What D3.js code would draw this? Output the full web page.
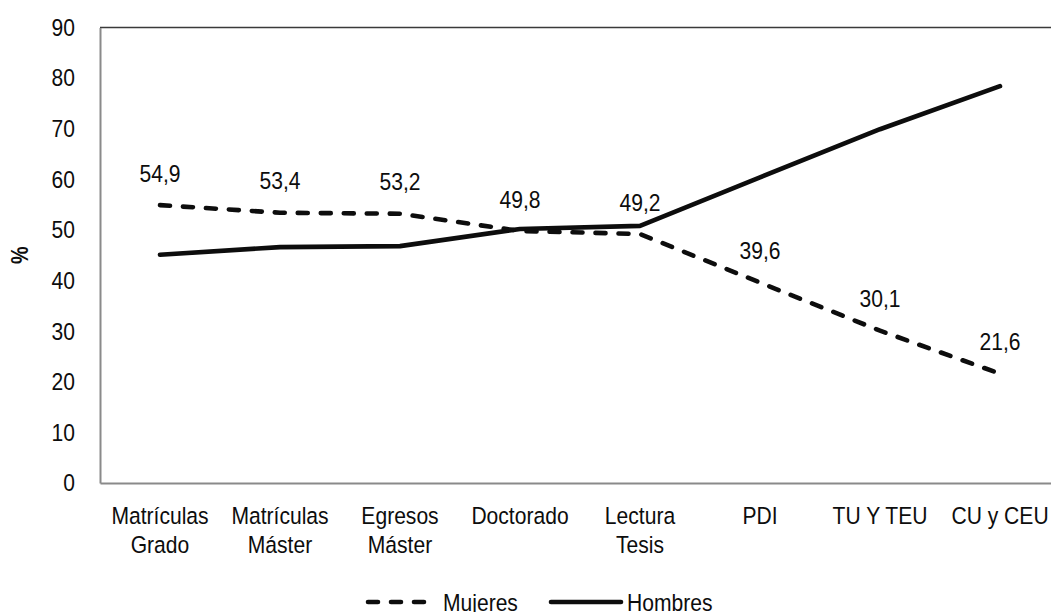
<!DOCTYPE html>
<html>
<head>
<meta charset="utf-8">
<script src="https://cdn.jsdelivr.net/npm/d3@7"></script>
<style>
  html, body { margin: 0; padding: 0; background: #fff; }
  svg { display: block; font-family: "Liberation Sans", Arial, sans-serif; }
</style>
</head>
<body>
<svg id="chart" width="1051" height="612"></svg>
<script>
// Categories (two-line labels split on "\n")
const categories = [
  "Matrículas\nGrado", "Matrículas\nMáster", "Egresos\nMáster", "Doctorado",
  "Lectura\nTesis", "PDI", "TU Y TEU", "CU y CEU"
];
const mujeres = [54.9, 53.4, 53.2, 49.8, 49.2, 39.6, 30.1, 21.6];
const hombres = [45.1, 46.6, 46.8, 50.2, 50.8, 60.4, 69.9, 78.4];
const yTicks = [0, 10, 20, 30, 40, 50, 60, 70, 80, 90];
const seriesNames = ["Mujeres", "Hombres"];

const svg = d3.select("#chart");
const margin = { left: 100, right: -9, top: 27.5, bottom: 129 };
const W = 1051, H = 612;
const plotW = W - margin.left - margin.right;
const plotH = H - margin.top - margin.bottom;

const x = d3.scaleBand().domain(d3.range(categories.length)).range([margin.left, margin.left + plotW]);
const y = d3.scaleLinear().domain([0, 90]).range([margin.top + plotH, margin.top]);
const cx = i => x(i) + x.bandwidth() / 2;

const FS = 24.5;
const INK = "#0d0d0d";

// Top border of the plot area
svg.append("line")
  .attr("x1", margin.left).attr("x2", margin.left + plotW)
  .attr("y1", y(90)).attr("y2", y(90))
  .attr("stroke", "#3a3a3a").attr("stroke-width", 1.6);

// Y axis
const yAxis = svg.append("g")
  .attr("transform", `translate(${margin.left},0)`)
  .call(d3.axisLeft(y).tickValues(yTicks).tickSize(0).tickPadding(25).tickFormat(d3.format("d")));
yAxis.select(".domain").attr("stroke", "#8a8a8a").attr("stroke-width", 2);
yAxis.selectAll("text").attr("font-size", FS).attr("fill", INK).attr("font-family", "Liberation Sans, Arial, sans-serif");

// X axis
const xAxis = svg.append("g")
  .attr("transform", `translate(0,${y(0)})`)
  .call(d3.axisBottom(x).tickSize(0).tickFormat(() => ""));
xAxis.select(".domain").attr("stroke", "#8a8a8a").attr("stroke-width", 2);

xAxis.selectAll(".tick").each(function(i) {
  const lines = categories[i].split("\n");
  const t = d3.select(this).append("text")
    .attr("fill", INK).attr("font-size", FS).attr("text-anchor", "middle")
    .attr("font-family", "Liberation Sans, Arial, sans-serif");
  lines.forEach((l, k) => {
    t.append("tspan").attr("x", 0).attr("y", 41 + k * 29).text(l);
  });
});

// Y axis title
svg.append("text")
  .attr("transform", `translate(28,${y(45)}) rotate(-90)`)
  .attr("text-anchor", "middle")
  .attr("font-size", 23).attr("font-weight", "bold").attr("fill", INK)
  .text("%");

// Lines
const line = d3.line().x((d, i) => cx(i)).y(d => y(d));

svg.append("path").datum(hombres)
  .attr("d", line).attr("fill", "none")
  .attr("stroke", INK).attr("stroke-width", 4.6)
  .attr("stroke-linecap", "round").attr("stroke-linejoin", "round");

svg.append("path").datum(mujeres)
  .attr("d", line).attr("fill", "none")
  .attr("stroke", INK).attr("stroke-width", 4.6)
  .attr("stroke-dasharray", "10,13").attr("stroke-linecap", "round");

// Data labels for Mujeres
svg.append("g").selectAll("text").data(mujeres).join("text")
  .attr("x", (d, i) => cx(i)).attr("y", d => y(d) - 32)
  .attr("dy", "0.35em").attr("text-anchor", "middle")
  .attr("font-size", FS).attr("fill", INK)
  .text(d => d3.format(".1f")(d).replace(".", ","));

// Legend
const legY = 602;
const leg = svg.append("g");
leg.append("line").attr("x1", 368).attr("x2", 426).attr("y1", legY).attr("y2", legY)
  .attr("stroke", INK).attr("stroke-width", 4.6)
  .attr("stroke-dasharray", "10,13").attr("stroke-linecap", "round");
leg.append("text").attr("x", 443).attr("y", legY).attr("dy", "0.35em")
  .attr("font-size", FS).attr("fill", INK).text(seriesNames[0]);
leg.append("line").attr("x1", 551).attr("x2", 621).attr("y1", legY).attr("y2", legY)
  .attr("stroke", INK).attr("stroke-width", 4.6).attr("stroke-linecap", "round");
leg.append("text").attr("x", 627).attr("y", legY).attr("dy", "0.35em")
  .attr("font-size", FS).attr("fill", INK).text(seriesNames[1]);

// Slightly condensed lettering
svg.selectAll("text").each(function() {
  const el = this;
  const spans = el.querySelectorAll("tspan");
  const targets = spans.length ? Array.from(spans) : [el];
  targets.forEach(t => {
    const len = t.getComputedTextLength();
    if (len > 0) {
      t.setAttribute("textLength", (len * 0.86).toFixed(1));
      t.setAttribute("lengthAdjust", "spacingAndGlyphs");
    }
  });
});
</script>
</body>
</html>
